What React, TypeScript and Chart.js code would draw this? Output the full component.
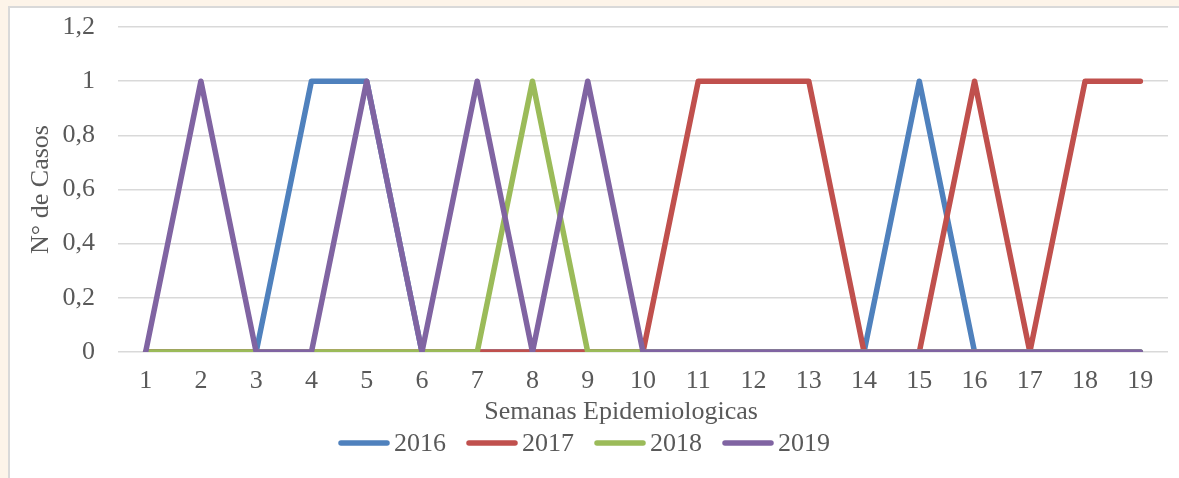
import React, { useEffect, useRef } from 'react';
import { Chart, registerables } from 'chart.js';

Chart.register(...registerables);

const weeks = ['1', '2', '3', '4', '5', '6', '7', '8', '9', '10', '11', '12', '13', '14', '15', '16', '17', '18', '19'];
const cases2016 = [0, 0, 0, 1, 1, 0, 0, 0, 0, 0, 0, 0, 0, 0, 1, 0, 0, 0, 0];
const cases2017 = [0, 0, 0, 0, 0, 0, 0, 0, 0, 0, 1, 1, 1, 0, 0, 1, 0, 1, 1];
const cases2018 = [0, 0, 0, 0, 0, 0, 0, 1, 0, 0, 0, 0, 0, 0, 0, 0, 0, 0, 0];
const cases2019 = [0, 1, 0, 0, 1, 0, 1, 0, 1, 0, 0, 0, 0, 0, 0, 0, 0, 0, 0];
const yTickLabels = ['0', '0,2', '0,4', '0,6', '0,8', '1', '1,2'];
const seriesNames = ['2016', '2017', '2018', '2019'];
const seriesColors = ['#4f81bd', '#c0504d', '#9bbb59', '#8064a2'];
const xTitle = 'Semanas Epidemiologicas';
const yTitle = 'N° de Casos';

const FONT = '"Liberation Serif", "DejaVu Serif", serif';
const TEXT = '#595959';
const FS = 26;

const framePlugin = {
  id: 'frame',
  beforeDraw(chart: any) {
    const { ctx, width, height } = chart;
    ctx.save();
    ctx.fillStyle = '#ffffff';
    ctx.fillRect(0, 0, width, height);
    ctx.fillStyle = '#fdf4e9';
    ctx.fillRect(0, 0, width, 6);
    ctx.fillRect(0, 0, 8, height);
    ctx.fillStyle = '#d9d9d9';
    ctx.fillRect(8, 6, width - 8, 2);
    ctx.fillRect(8, 6, 2, height - 6);
    ctx.restore();
  },
  afterDraw(chart: any) {
    const { ctx } = chart;
    ctx.save();
    ctx.fillStyle = TEXT;
    ctx.font = `${FS}px ${FONT}`;
    ctx.textAlign = 'center';
    ctx.textBaseline = 'middle';
    ctx.fillText(xTitle, 621, 412);

    // legend
    const lineW = 52;
    const gapText = 4;
    const gapItem = 20;
    const items = chart.data.datasets.map((d: any) => ({
      label: d.label,
      color: d.borderColor,
      w: ctx.measureText(d.label).width,
    }));
    const total = items.reduce((s: number, it: any) => s + lineW + gapText + it.w, 0) + gapItem * (items.length - 1);
    let x = 584 - total / 2;
    const y = 443;
    ctx.textAlign = 'left';
    for (const it of items) {
      ctx.strokeStyle = it.color;
      ctx.lineWidth = 5.5;
      ctx.lineCap = 'round';
      ctx.beginPath();
      ctx.moveTo(x + 3, y);
      ctx.lineTo(x + lineW - 3, y);
      ctx.stroke();
      ctx.fillText(it.label, x + lineW + gapText, y + 1);
      x += lineW + gapText + it.w + gapItem;
    }
    ctx.restore();
  },
};

export default function App() {
  const ref = useRef<HTMLCanvasElement | null>(null);

  useEffect(() => {
    if (!ref.current) return;
    const all = [cases2016, cases2017, cases2018, cases2019];
    const chart = new Chart(ref.current, {
      type: 'line',
      data: {
        labels: weeks,
        datasets: all.map((vals, i) => ({
          label: seriesNames[i],
          data: vals,
          borderColor: seriesColors[i],
          backgroundColor: seriesColors[i],
          borderWidth: 5.5,
          borderCapStyle: 'round',
          borderJoinStyle: 'round',
          pointRadius: 0,
          pointHoverRadius: 0,
          tension: 0,
          fill: false,
          order: all.length - 1 - i,
        })),
      },
      options: {
        animation: false,
        responsive: false,
        maintainAspectRatio: false,
        layout: { padding: { top: 27, left: 26, right: 11, bottom: 76 } },
        plugins: {
          legend: { display: false },
          tooltip: { enabled: false },
          title: { display: false },
        },
        scales: {
          x: {
            type: 'category',
            offset: true,
            grid: { display: false, drawTicks: false },
            border: { display: false },
            ticks: {
              color: TEXT,
              font: { family: FONT, size: FS },
              padding: 14,
              maxRotation: 0,
              autoSkip: false,
            },
            afterFit: (scale: any) => {
              scale.height = 50;
            },
          },
          y: {
            min: 0,
            max: 1.2,
            grid: { color: '#d9d9d9', lineWidth: 1.5, drawTicks: false },
            border: { display: false },
            ticks: {
              stepSize: 0.2,
              color: TEXT,
              font: { family: FONT, size: FS },
              padding: 23,
              callback: (_v: any, idx: number) => yTickLabels[idx],
            },
            title: {
              display: true,
              text: yTitle,
              color: TEXT,
              font: { family: FONT, size: FS },
              padding: 0,
            },
            afterFit: (scale: any) => {
              scale.width = 92;
              scale.paddingTop = 0;
              scale.paddingBottom = 0;
            },
          },
        },
      },
      plugins: [framePlugin],
    } as any);
    return () => chart.destroy();
  }, []);

  return (
    <div style={{ position: 'fixed', left: 0, top: 0, width: 1179, height: 478 }}>
      <canvas ref={ref} width={1179} height={478} style={{ width: 1179, height: 478, display: 'block' }} />
    </div>
  );
}
